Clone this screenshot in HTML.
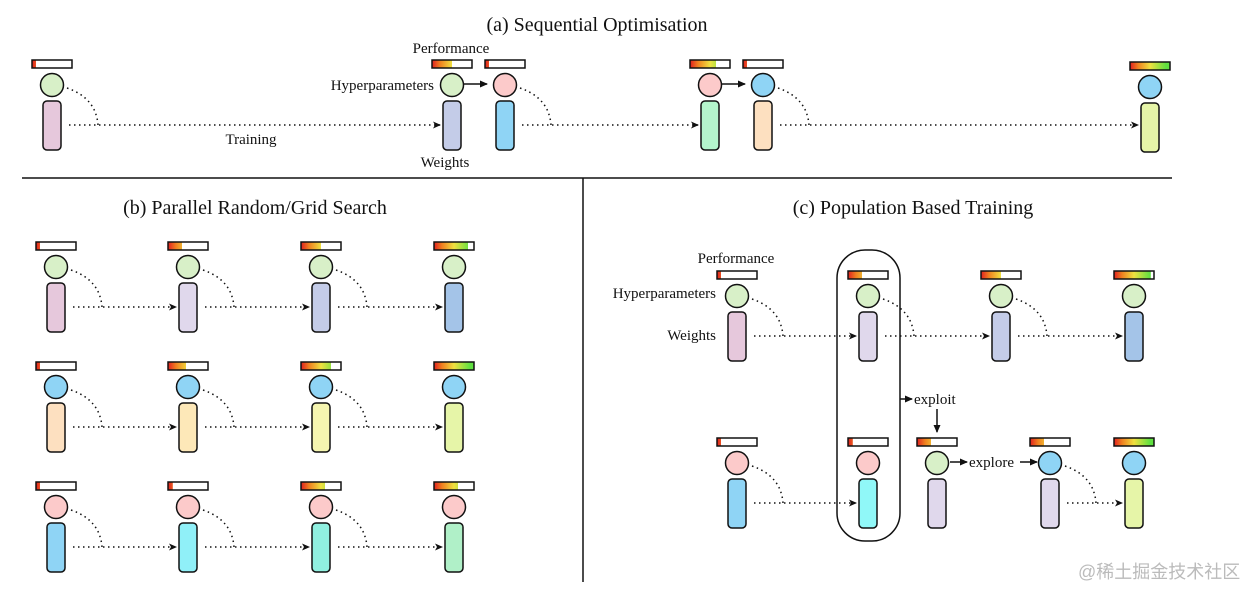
<!DOCTYPE html>
<html><head><meta charset="utf-8"><style>
html,body{margin:0;padding:0;background:#fff;width:1256px;height:598px;overflow:hidden}
svg{display:block}
text{font-family:"Liberation Serif",serif;fill:#111}
</style></head><body>
<svg id="s" width="1256" height="598" viewBox="0 0 1256 598" xmlns="http://www.w3.org/2000/svg">
<defs>
<marker id="ah" markerWidth="8" markerHeight="8" refX="7" refY="4" orient="auto" markerUnits="userSpaceOnUse"><path d="M0,0.5 L8,4 L0,7.5 L2,4 Z" fill="#111"/></marker>
<marker id="as" markerWidth="8" markerHeight="8" refX="7" refY="4" orient="auto" markerUnits="userSpaceOnUse"><path d="M0,0.5 L8,4 L0,7.5 Z" fill="#111"/></marker>
</defs>
<line x1="22" y1="178" x2="1172" y2="178" stroke="#111" stroke-width="1.5"/>
<line x1="583" y1="178" x2="583" y2="582" stroke="#111" stroke-width="1.5"/>
<text x="597" y="31" font-size="20" text-anchor="middle">(a) Sequential Optimisation</text>
<text x="255" y="214" font-size="20" text-anchor="middle">(b) Parallel Random/Grid Search</text>
<text x="913" y="214" font-size="20" text-anchor="middle">(c) Population Based Training</text>
<text x="451" y="53" font-size="15" text-anchor="middle">Performance</text>
<text x="434" y="90" font-size="15" text-anchor="end">Hyperparameters</text>
<text x="445" y="167" font-size="15" text-anchor="middle">Weights</text>
<text x="251" y="144" font-size="15" text-anchor="middle">Training</text>
<text x="736" y="263" font-size="15" text-anchor="middle">Performance</text>
<text x="716" y="298" font-size="15" text-anchor="end">Hyperparameters</text>
<text x="716" y="340" font-size="15" text-anchor="end">Weights</text>
<text x="914" y="404" font-size="15">exploit</text>
<text x="969" y="467" font-size="15">explore</text>
<rect x="837" y="250" width="63" height="291" rx="28" fill="none" stroke="#111" stroke-width="1.5"/>
<line x1="900" y1="399" x2="912" y2="399" stroke="#111" stroke-width="1.5" marker-end="url(#as)"/>
<line x1="937" y1="409" x2="937" y2="432" stroke="#111" stroke-width="1.5" marker-end="url(#as)"/>
<line x1="950" y1="462" x2="967" y2="462" stroke="#111" stroke-width="1.5" marker-end="url(#as)"/>
<line x1="1020" y1="462" x2="1037" y2="462" stroke="#111" stroke-width="1.5" marker-end="url(#as)"/>
<line x1="463" y1="84" x2="487" y2="84" stroke="#111" stroke-width="1.5" marker-end="url(#as)"/>
<line x1="721" y1="84" x2="745" y2="84" stroke="#111" stroke-width="1.5" marker-end="url(#as)"/>
<g id="g"></g>
</svg>
<script>
var NS="http://www.w3.org/2000/svg",g=document.getElementById('g'),gid=0;
function el(t,a){var e=document.createElementNS(NS,t);for(var k in a)e.setAttribute(k,a[k]);g.appendChild(e);return e;}
function unit(cx,by,f,cc,rc){
  var x=cx-20,w=40;
  var id='gr'+(gid++);
  var lg=document.createElementNS(NS,'linearGradient');lg.setAttribute('id',id);lg.setAttribute('gradientUnits','userSpaceOnUse');
  lg.setAttribute('x1',x);lg.setAttribute('x2',x+w);lg.setAttribute('y1',0);lg.setAttribute('y2',0);
  [[0,'#e02020'],[0.2,'#f08020'],[0.5,'#f0e040'],[0.9,'#60e040']].forEach(function(s){var st=document.createElementNS(NS,'stop');st.setAttribute('offset',s[0]);st.setAttribute('stop-color',s[1]);lg.appendChild(st);});
  document.querySelector('defs').appendChild(lg);
  el('rect',{x:x,y:by,width:w,height:8,fill:'#fff'});
  el('rect',{x:x,y:by,width:w*f,height:8,fill:'url(#'+id+')'});
  el('rect',{x:x,y:by,width:w,height:8,fill:'none',stroke:'#111','stroke-width':1.5});
  el('circle',{cx:cx,cy:by+25,r:11.5,fill:cc,stroke:'#111','stroke-width':1.5});
  el('rect',{x:cx-9,y:by+41,width:18,height:49,rx:4,fill:rc,stroke:'#111','stroke-width':1.5});
}
function conn(cx,by,tx){
  var y=by+65;
  el('path',{d:'M'+(cx+15)+','+(by+28)+' Q'+(cx+44)+','+(by+38)+' '+(cx+46)+','+y,fill:'none',stroke:'#111','stroke-width':1.5,'stroke-dasharray':'1.5 3.5'});
  el('line',{x1:cx+17,y1:y,x2:tx-12,y2:y,stroke:'#111','stroke-width':1.5,'stroke-dasharray':'1.5 3.5','marker-end':'url(#ah)'});
}
var G='#d8f0c8',P='#fccaca',B='#8fd4f5';
conn(52,60,452);unit(52,60,0.1,G,'#e6c8dc');
unit(452,60,0.5,G,'#c4cce8');conn(505,60,710);unit(505,60,0.1,P,'#8fd4f5');
unit(710,60,0.65,P,'#b4f5cc');conn(763,60,1150);unit(763,60,0.1,B,'#fde0c0');
unit(1150,62,1,B,'#e6f5a8');
var cols=[56,188,321,454];
var rows=[[242,G,['#e6c8dc','#e0d8ec','#c4cce8','#a4c4e8'],[0.1,0.35,0.5,0.85]],
[362,B,['#fde0c0','#fde8b8','#f5f5b0','#e6f5a8'],[0.1,0.45,0.75,1]],
[482,P,['#8fd4f5','#90f0f8','#90f0e0','#b0f0c8'],[0.1,0.12,0.6,0.6]]];
rows.forEach(function(r){cols.forEach(function(c,i){if(i<3)conn(c,r[0],cols[i+1]);unit(c,r[0],r[3][i],r[1],r[2][i]);});});
conn(737,271,868);unit(737,271,0.1,G,'#e6c8dc');
conn(868,271,1001);unit(868,271,0.35,G,'#e0d8ec');
conn(1001,271,1134);unit(1001,271,0.5,G,'#c4cce8');
unit(1134,271,0.92,G,'#a4c4e8');
conn(737,438,868);unit(737,438,0.1,P,'#8fd4f5');
unit(868,438,0.12,P,'#90f8f8');
unit(937,438,0.35,G,'#e0d8ec');
conn(1050,438,1134);unit(1050,438,0.35,B,'#e0d8ec');
unit(1134,438,1,B,'#e6f5a8');
</script>
<div style="position:absolute;left:1078px;top:558px;font:18px 'Liberation Sans','Noto Sans CJK SC',sans-serif;color:#bbb;white-space:nowrap">@稀土掘金技术社区</div>
</body></html>
